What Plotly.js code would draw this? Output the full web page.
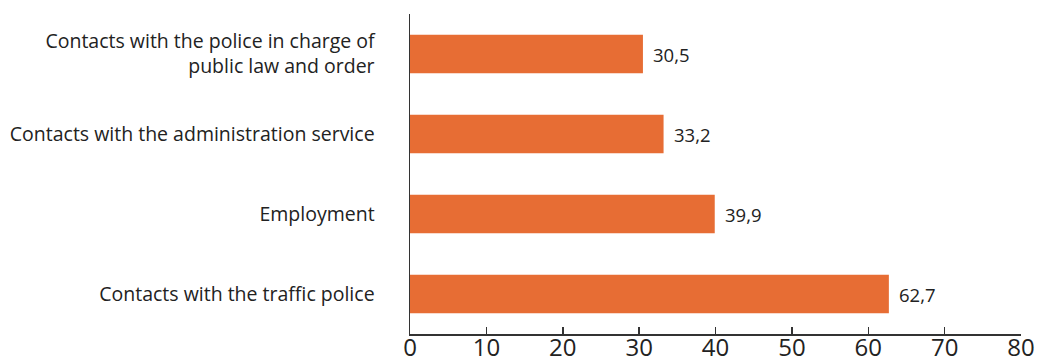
<!DOCTYPE html>
<html>
<head>
<meta charset="utf-8">
<script src="https://cdn.plot.ly/plotly-3.0.1.min.js"></script>
<style>html,body{margin:0;padding:0;background:#fff;}#chart{width:1041px;height:362px;}</style>
</head>
<body>
<div id="chart"></div>
<script>
const categories = [
  "Contacts with the traffic police",
  "Employment",
  "Contacts with the administration service",
  "Contacts with the police in charge of<br>public law and order"
];
const values = [62.7, 39.9, 33.2, 30.5];
const xTicks = [0, 10, 20, 30, 40, 50, 60, 70, 80];

const trace = {
  type: 'bar',
  orientation: 'h',
  y: categories,
  x: values,
  marker: {color: '#E76D34'},
  hoverinfo: 'none',
  width: 0.48
};

const annotations = values.map((v, i) => ({
  x: v, y: categories[i], xref: 'x', yref: 'y',
  text: v.toFixed(1).replace('.', ','),
  showarrow: false, xanchor: 'left', yanchor: 'middle', xshift: 8,
  font: {family: 'Open Sans', size: 18.5, color: '#222'}
}));

const layout = {
  width: 1041, height: 362,
  margin: {l: 410, r: 20, t: 14, b: 28},
  paper_bgcolor: '#fff', plot_bgcolor: '#fff',
  showlegend: false,
  font: {family: 'Open Sans', color: '#222'},
  annotations: annotations,
  xaxis: {
    range: [0, 80],
    tickvals: xTicks,
    ticktext: xTicks.map(String),
    showgrid: false, zeroline: false,
    showline: true, linecolor: '#333', linewidth: 1.5,
    ticks: 'inside', ticklen: 7, tickwidth: 1.5, tickcolor: '#333',
    ticklabelstandoff: -8,
    tickfont: {family: 'Open Sans', size: 24, color: '#222'}
  },
  yaxis: {
    range: [-0.5, 3.5],
    showgrid: false, zeroline: false,
    showline: true, linecolor: '#333', linewidth: 1.5,
    ticks: '', ticklabelstandoff: 30,
    tickfont: {family: 'Open Sans', size: 19.5, color: '#222'}
  }
};

Plotly.newPlot('chart', [trace], layout, {displayModeBar: false, staticPlot: true});
</script>
</body>
</html>
